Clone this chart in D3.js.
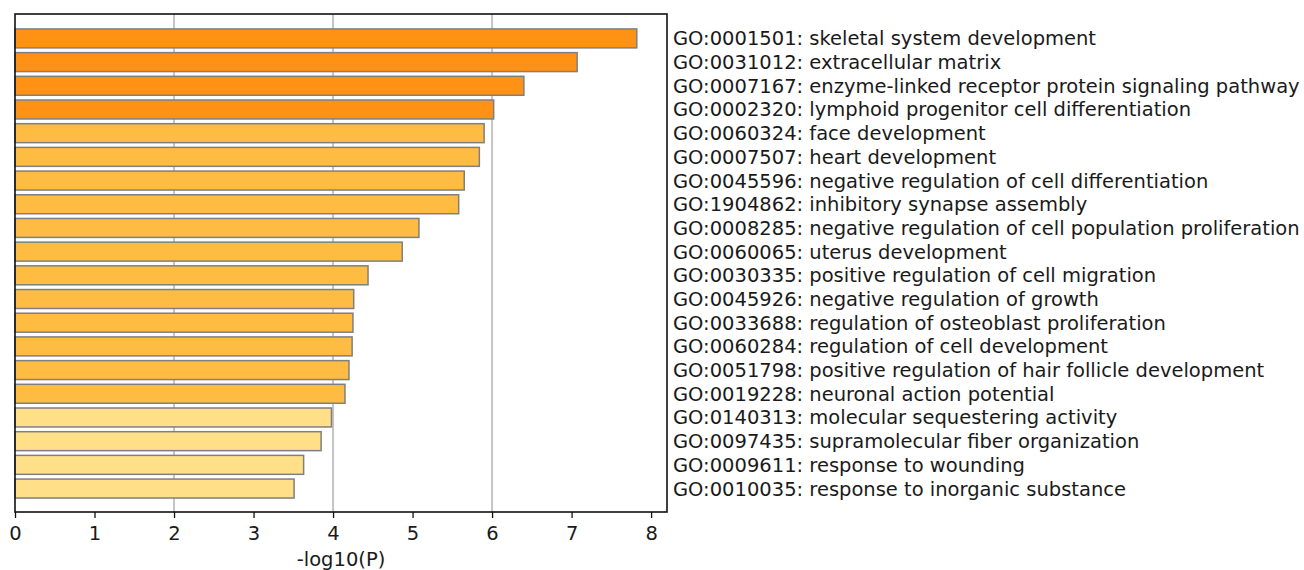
<!DOCTYPE html>
<html>
<head>
<meta charset="utf-8">
<script src="https://cdn.jsdelivr.net/npm/d3@7"></script>
<style>
  body { margin: 0; background: #fff; }
  text { font-family: "DejaVu Sans", sans-serif; fill: #1a1a1a; }
</style>
</head>
<body>
<script>
// GO terms, top to bottom
const terms = [
  "GO:0001501: skeletal system development",
  "GO:0031012: extracellular matrix",
  "GO:0007167: enzyme-linked receptor protein signaling pathway",
  "GO:0002320: lymphoid progenitor cell differentiation",
  "GO:0060324: face development",
  "GO:0007507: heart development",
  "GO:0045596: negative regulation of cell differentiation",
  "GO:1904862: inhibitory synapse assembly",
  "GO:0008285: negative regulation of cell population proliferation",
  "GO:0060065: uterus development",
  "GO:0030335: positive regulation of cell migration",
  "GO:0045926: negative regulation of growth",
  "GO:0033688: regulation of osteoblast proliferation",
  "GO:0060284: regulation of cell development",
  "GO:0051798: positive regulation of hair follicle development",
  "GO:0019228: neuronal action potential",
  "GO:0140313: molecular sequestering activity",
  "GO:0097435: supramolecular fiber organization",
  "GO:0009611: response to wounding",
  "GO:0010035: response to inorganic substance"
];
const logP = [7.82, 7.07, 6.40, 6.02, 5.90, 5.84, 5.65, 5.58, 5.08, 4.87,
              4.44, 4.26, 4.25, 4.24, 4.20, 4.15, 3.98, 3.85, 3.63, 3.51];
const xTicks = [0, 1, 2, 3, 4, 5, 6, 7, 8];
const gridAt = [2, 4, 6];
const xLabel = "-log10(P)";

const W = 1304, H = 570;
const plot = { left: 15, top: 14, right: 667, bottom: 512 };
const fontPx = "19.5px";

const svg = d3.select("body").append("svg")
  .attr("width", W)
  .attr("height", H);

const x = d3.scaleLinear().domain([0, 8.2]).range([plot.left, plot.right]);
const y = d3.scaleLinear().domain([-1.03, 19.99]).range([plot.top, plot.bottom]);
const step = y(1) - y(0);
const barH = step * 0.8;

const color = function (v) {
  if (v >= 6) return "#ff9114";
  if (v >= 4.1) return "#ffbc42";
  return "#ffdf88";
};

// grid lines behind bars
svg.append("g").selectAll("line")
  .data(gridAt)
  .enter().append("line")
  .attr("x1", d => x(d)).attr("x2", d => x(d))
  .attr("y1", plot.top).attr("y2", plot.bottom)
  .attr("stroke", "#c4c4c4")
  .attr("stroke-width", 2);

// bars
svg.append("g").selectAll("rect")
  .data(logP)
  .enter().append("rect")
  .attr("x", x(0))
  .attr("y", (d, i) => y(i) - barH / 2)
  .attr("width", d => x(d) - x(0))
  .attr("height", barH)
  .attr("fill", d => color(d))
  .attr("stroke", "#7f7f7f")
  .attr("stroke-width", 1.5);

// frame
svg.append("rect")
  .attr("x", plot.left).attr("y", plot.top)
  .attr("width", plot.right - plot.left)
  .attr("height", plot.bottom - plot.top)
  .attr("fill", "none")
  .attr("stroke", "#111")
  .attr("stroke-width", 1.6);

// x axis
const xAxis = svg.append("g")
  .attr("transform", "translate(0," + plot.bottom + ")")
  .call(d3.axisBottom(x).tickValues(xTicks).tickSize(6).tickPadding(8).tickFormat(d3.format("d")));
xAxis.select(".domain").remove();
xAxis.selectAll("line").attr("stroke", "#111").attr("stroke-width", 1.3);
xAxis.selectAll("text")
  .style("font-family", "DejaVu Sans, sans-serif")
  .style("font-size", fontPx)
  .attr("fill", "#1a1a1a");

svg.append("text")
  .attr("x", (plot.left + plot.right) / 2)
  .attr("y", 566)
  .attr("text-anchor", "middle")
  .style("font-size", fontPx)
  .text(xLabel);

// term labels on the right
svg.append("g").selectAll("text")
  .data(terms)
  .enter().append("text")
  .attr("x", 673)
  .attr("y", (d, i) => y(i))
  .attr("dy", "0.36em")
  .style("font-size", fontPx)
  .text(d => d);
</script>
</body>
</html>
